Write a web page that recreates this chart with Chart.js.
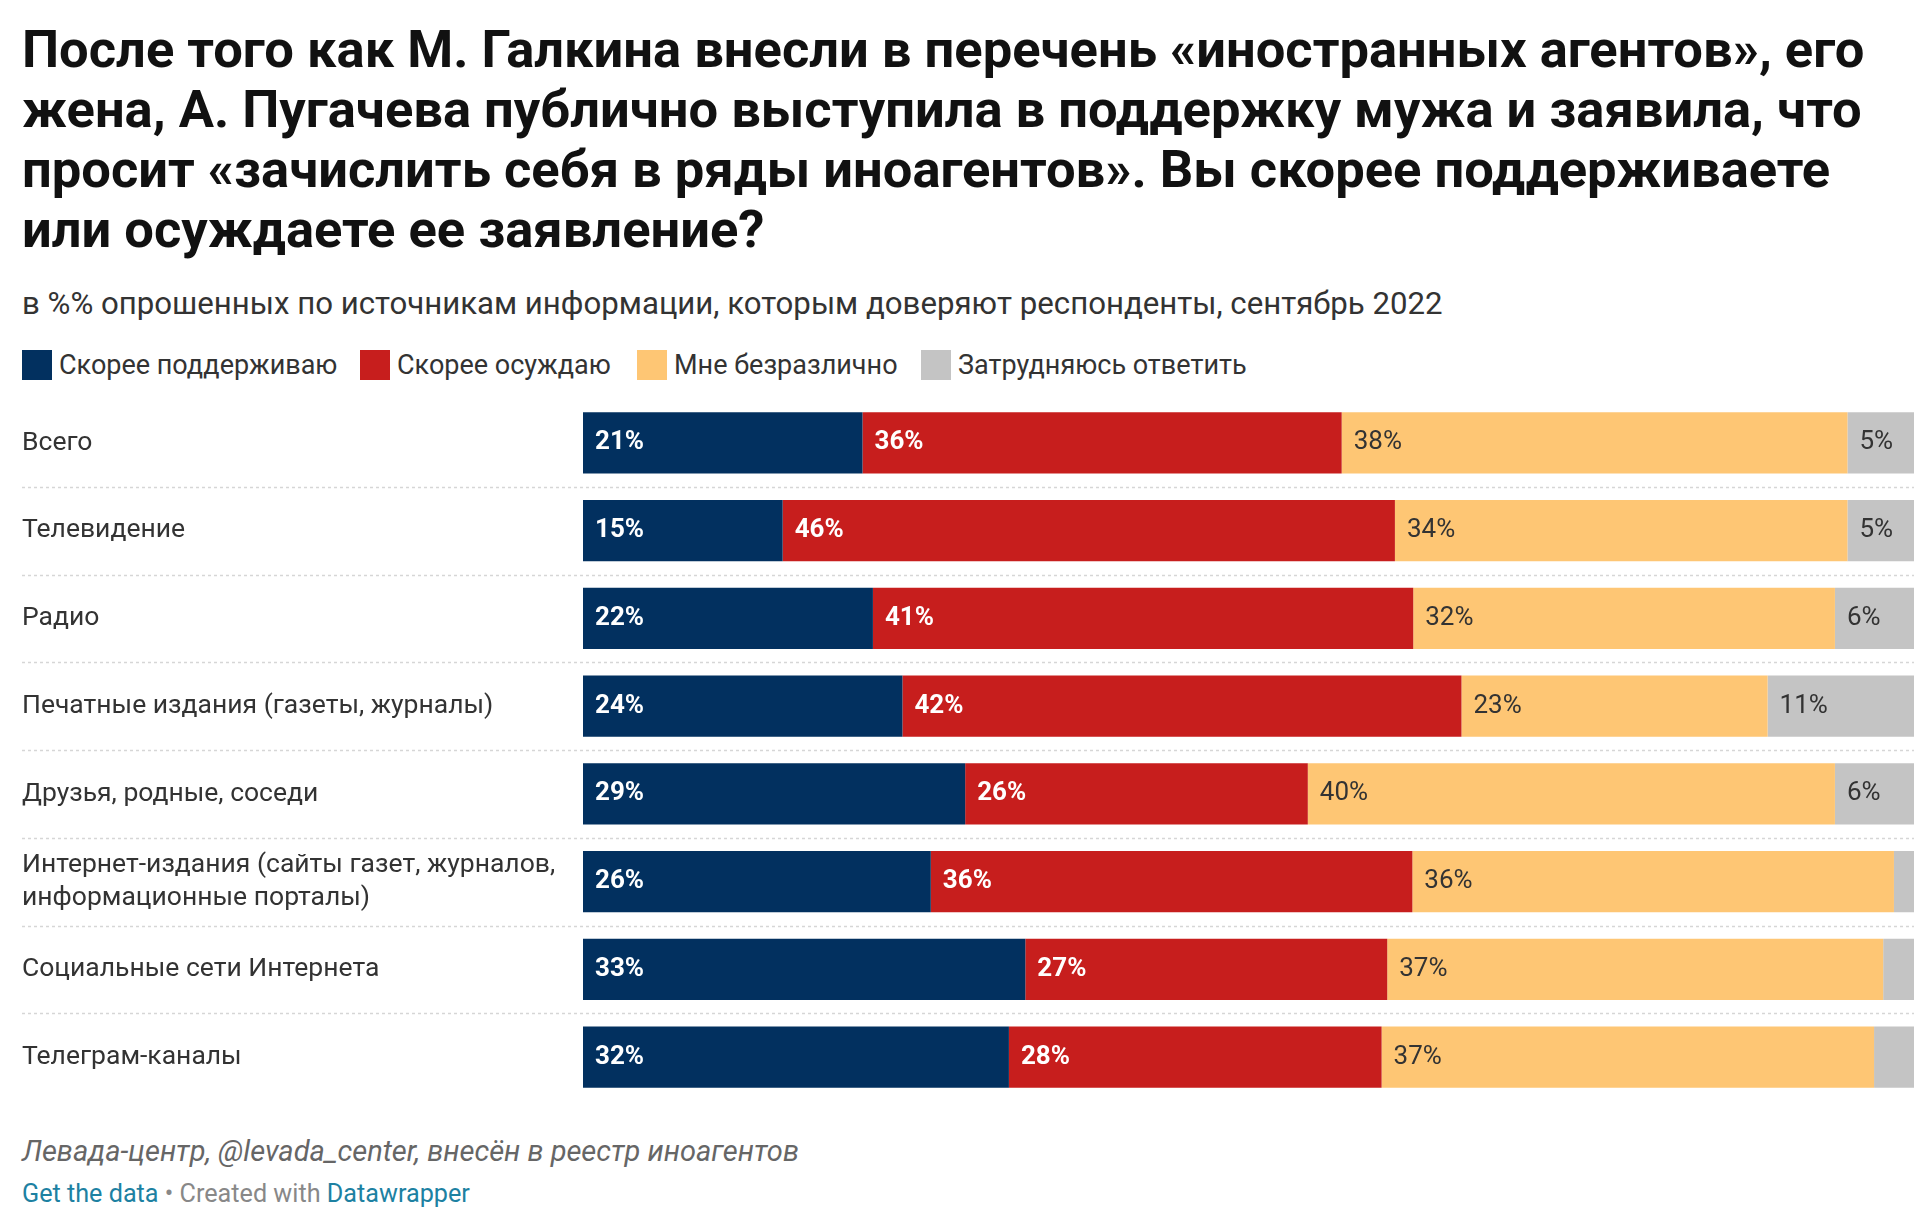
<!DOCTYPE html>
<html>
<head>
<meta charset="utf-8">
<script src="https://cdn.jsdelivr.net/npm/chart.js@4"></script>
<style>
  body { margin: 0; background: #fff; width: 1920px; height: 1229px; overflow: hidden; font-family: Roboto, sans-serif; }
  .abs { position: absolute; white-space: nowrap; }
  .sq { position: absolute; width: 30px; height: 30px; }
  #title { left: 22px; top: 19px; font-size: 52.5px; font-weight: bold; line-height: 60px; color: #111; }
  #subtitle { left: 22px; top: 286px; font-size: 31.2px; line-height: 36px; color: #333; }
  .leg { top: 349px; font-size: 27px; line-height: 32px; color: #333; }
  #source { left: 22px; top: 1134px; font-size: 29px; line-height: 34px; font-style: italic; color: #666; }
  #credits { left: 22px; top: 1179px; font-size: 25.2px; line-height: 30px; color: #888; }
  #credits span { color: #1d81a2; }
  #chartBox { position: absolute; left: 0; top: 390px; width: 1920px; height: 720px; }
</style>
</head>
<body>
<div id="title" class="abs">После того как М. Галкина внесли в перечень «иностранных агентов», его<br>жена, А. Пугачева публично выступила в поддержку мужа и заявила, что<br>просит «зачислить себя в ряды иноагентов». Вы скорее поддерживаете<br>или осуждаете ее заявление?</div>
<div id="subtitle" class="abs">в %% опрошенных по источникам информации, которым доверяют респонденты, сентябрь 2022</div>
<div id="legend"></div>
<div id="chartBox"><canvas id="chart"></canvas></div>
<div id="source" class="abs">Левада-центр, @levada_center, внесён в реестр иноагентов</div>
<div id="credits" class="abs"><span>Get the data</span> • Created with <span>Datawrapper</span></div>
<script>
// источники информации
const categories = [
  'Всего',
  'Телевидение',
  'Радио',
  'Печатные издания (газеты, журналы)',
  'Друзья, родные, соседи',
  ['Интернет-издания (сайты газет, журналов,', 'информационные порталы)'],
  'Социальные сети Интернета',
  'Телеграм-каналы'
];

const seriesNames = ['Скорее поддерживаю', 'Скорее осуждаю', 'Мне безразлично', 'Затрудняюсь ответить'];
const seriesColors = ['#02305f', '#c71e1d', '#fec674', '#c4c4c4'];

const support  = [21, 15, 22, 24, 29, 26, 33, 32];
const condemn  = [36, 46, 41, 42, 26, 36, 27, 28];
const neutral  = [38, 34, 32, 23, 40, 36, 37, 37];
// last three are unlabeled in the picture
const hardToSay = [5, 5, 6, 11, 6, 1.5, 2.3, 3];

const seriesValues = [support, condemn, neutral, hardToSay];

// legend
const legendX = [22, 360, 637, 921];
const legendEl = document.getElementById('legend');
seriesNames.forEach((name, i) => {
  const sq = document.createElement('div');
  sq.className = 'sq';
  sq.style.left = legendX[i] + 'px';
  sq.style.top = '350px';
  sq.style.background = seriesColors[i];
  legendEl.appendChild(sq);
  const t = document.createElement('div');
  t.className = 'abs leg';
  t.style.left = (legendX[i] + 37) + 'px';
  t.textContent = name;
  legendEl.appendChild(t);
});

// each row is stretched to the full width
const rowTotals = categories.map((c, i) => seriesValues.reduce((s, arr) => s + arr[i], 0));

const separators = {
  id: 'separators',
  beforeDatasetsDraw(chart) {
    const ctx = chart.ctx;
    const y = chart.scales.y;
    ctx.save();
    ctx.strokeStyle = '#d6d6d6';
    ctx.lineWidth = 1.5;
    ctx.setLineDash([3, 3]);
    for (let i = 1; i < categories.length; i++) {
      const py = Math.round((y.getPixelForValue(i - 1) + y.getPixelForValue(i)) / 2) + 0.5;
      ctx.beginPath();
      ctx.moveTo(22, py);
      ctx.lineTo(chart.chartArea.right, py);
      ctx.stroke();
    }
    ctx.restore();
  }
};

// row names on the left
const rowNames = {
  id: 'rowNames',
  afterDraw(chart) {
    const ctx = chart.ctx;
    const y = chart.scales.y;
    ctx.save();
    ctx.fillStyle = '#333';
    ctx.font = '26.5px Roboto';
    ctx.textBaseline = 'middle';
    ctx.textAlign = 'left';
    categories.forEach((cat, i) => {
      const lines = Array.isArray(cat) ? cat : [cat];
      const lh = 33;
      const cy = y.getPixelForValue(i);
      lines.forEach((line, k) => {
        ctx.fillText(line, 22, cy + (k - (lines.length - 1) / 2) * lh);
      });
    });
    ctx.restore();
  }
};

const barLabels = {
  id: 'barLabels',
  afterDatasetsDraw(chart) {
    const ctx = chart.ctx;
    ctx.save();
    ctx.textBaseline = 'middle';
    ctx.textAlign = 'left';
    chart.data.datasets.forEach((ds, di) => {
      const meta = chart.getDatasetMeta(di);
      meta.data.forEach((bar, i) => {
        const left = Math.min(bar.x, bar.base);
        const w = Math.abs(bar.x - bar.base);
        if (w < 45) return;
        if (di < 2) {
          ctx.fillStyle = '#fff';
          ctx.font = 'bold 26px Roboto';
        } else {
          ctx.fillStyle = '#333';
          ctx.font = '26px Roboto';
        }
        ctx.fillText(seriesValues[di][i] + '%', left + 12, bar.y);
      });
    });
    ctx.restore();
  }
};

new Chart(document.getElementById('chart'), {
  type: 'bar',
  data: {
    labels: categories,
    datasets: seriesNames.map((name, i) => ({
      label: name,
      data: seriesValues[i].map((v, j) => v / rowTotals[j] * 100),
      backgroundColor: seriesColors[i],
      borderWidth: 0,
      barPercentage: 0.7,
      categoryPercentage: 1
    }))
  },
  options: {
    indexAxis: 'y',
    responsive: true,
    maintainAspectRatio: false,
    animation: false,
    layout: { padding: { left: 583, right: 6, top: 9, bottom: 9 } },
    scales: {
      x: { stacked: true, min: 0, max: 100, display: false },
      y: { stacked: true, display: false }
    },
    plugins: {
      legend: { display: false },
      tooltip: { enabled: false }
    }
  },
  plugins: [separators, barLabels, rowNames]
});
</script>
</body>
</html>
